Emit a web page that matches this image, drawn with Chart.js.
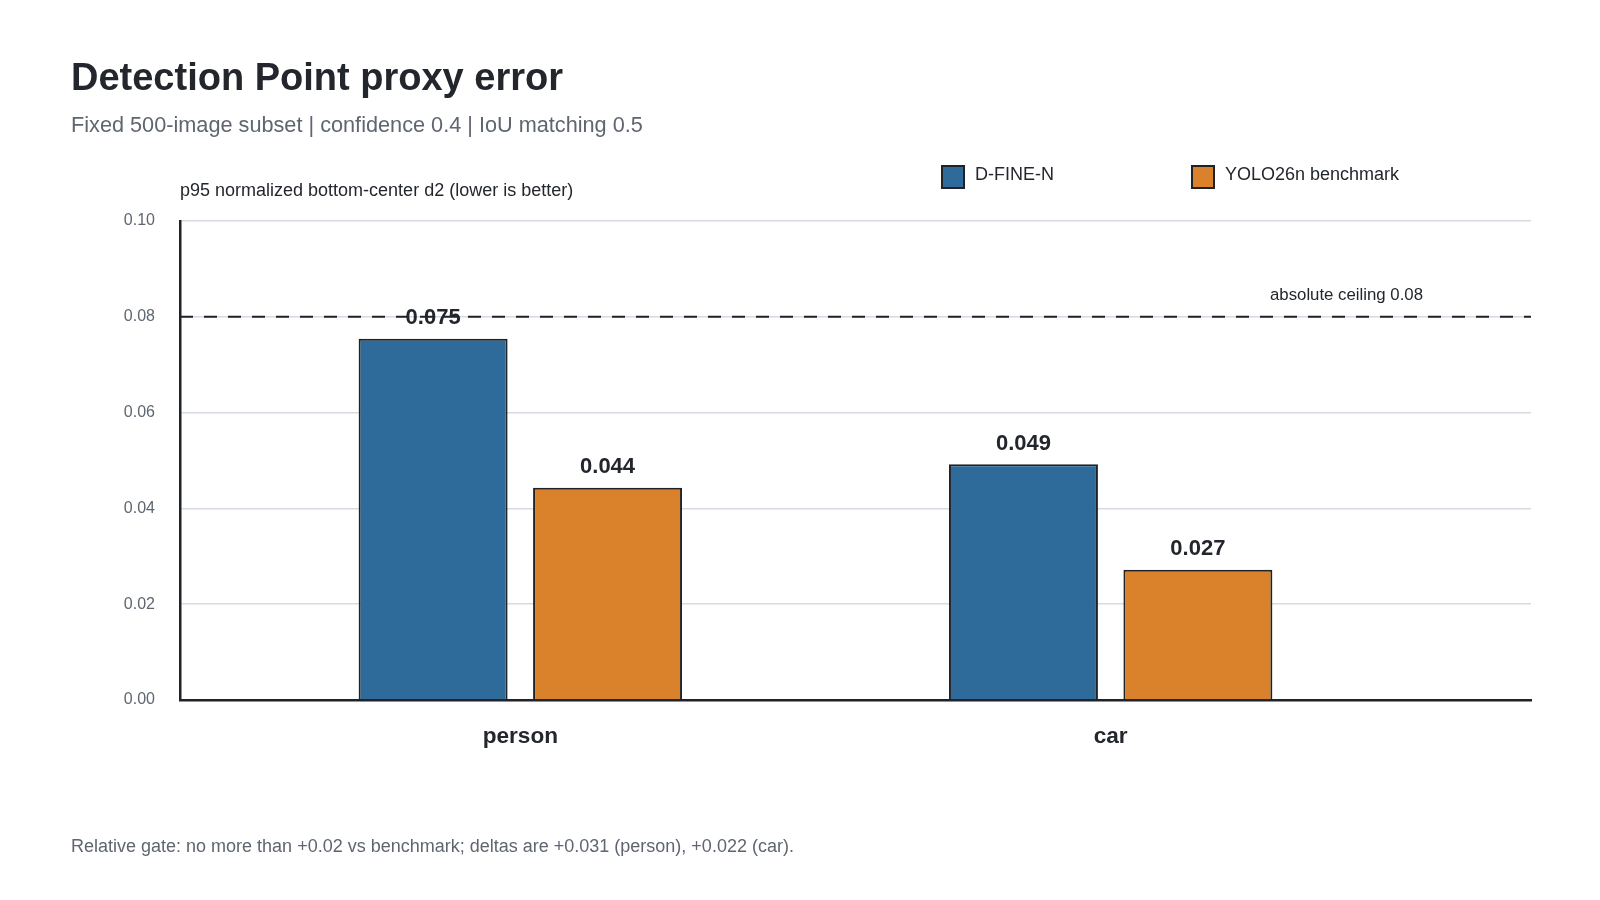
<!DOCTYPE html>
<html>
<head>
<meta charset="utf-8">
<script src="https://cdn.jsdelivr.net/npm/chart.js@4.4.1/dist/chart.umd.min.js"></script>
<style>
  html, body { margin: 0; padding: 0; background: #fff; }
  body { width: 1600px; height: 900px; position: relative; overflow: hidden;
         font-family: "Liberation Sans", Arial, sans-serif; }
  .txt { position: absolute; white-space: nowrap; }
  #title { left: 71px; top: 55px; font-size: 38px; font-weight: bold; color: #23272d; line-height: 44px; }
  #subtitle { left: 71px; top: 112px; font-size: 21.7px; color: #5f6670; line-height: 26px; }
  #footer { left: 71px; top: 835px; font-size: 18px; color: #5f6670; line-height: 22px; }
  .swatch { position: absolute; width: 19.5px; height: 19.5px; border: 2px solid #1f2328; }
  .legtext { position: absolute; font-size: 18px; color: #23272d; line-height: 20px; }
  #wrap { position: absolute; left: 0; top: 0; width: 1600px; height: 900px; }
</style>
</head>
<body>
<div id="wrap"><canvas id="chart"></canvas></div>
<div class="txt" id="title">Detection Point proxy error</div>
<div class="txt" id="subtitle">Fixed 500-image subset | confidence 0.4 | IoU matching 0.5</div>
<div class="txt" id="footer">Relative gate: no more than +0.02 vs benchmark; deltas are +0.031 (person), +0.022 (car).</div>
<div id="legend"></div>
<script>
// chart data
const categories = ["person", "car"];
const seriesNames = ["D-FINE-N", "YOLO26n benchmark"];
const dfineValues = [0.0754, 0.0492];
const yoloValues = [0.0443, 0.0272];
const yTicks = [0, 0.02, 0.04, 0.06, 0.08, 0.10];
const ceiling = 0.08;

const colors = ["#2e6b9a", "#d9822b"];
const edge = "#1f2328";

// legend (html)
const legendPos = [941, 1191];
const legend = document.getElementById("legend");
seriesNames.forEach((name, i) => {
    const sw = document.createElement("div");
    sw.className = "swatch";
    sw.style.left = legendPos[i] + "px";
    sw.style.top = "165px";
    sw.style.background = colors[i];
    legend.appendChild(sw);
    const t = document.createElement("div");
    t.className = "legtext";
    t.style.left = (legendPos[i] + 34) + "px";
    t.style.top = "164px";
    t.textContent = name;
    legend.appendChild(t);
});

// value labels, ceiling line and axis title
const extras = {
    id: "extras",
    afterDatasetsDraw(chart) {
        const ctx = chart.ctx;
        const area = chart.chartArea;
        const yScale = chart.scales.y;
        const yLine = yScale.getPixelForValue(ceiling);

        ctx.save();
        ctx.strokeStyle = "#1f2328";
        ctx.lineWidth = 2;
        ctx.setLineDash([13, 11]);
        ctx.beginPath();
        ctx.moveTo(area.left, yLine);
        ctx.lineTo(area.right, yLine);
        ctx.stroke();
        ctx.setLineDash([]);

        ctx.fillStyle = "#23272d";
        ctx.font = "16.8px 'Liberation Sans', Arial, sans-serif";
        ctx.textAlign = "right";
        ctx.textBaseline = "middle";
        ctx.fillText("absolute ceiling " + ceiling.toFixed(2), area.right - 108, yLine - 21);

        ctx.font = "bold 22px 'Liberation Sans', Arial, sans-serif";
        ctx.textAlign = "center";
        ctx.textBaseline = "middle";
        chart.data.datasets.forEach((ds, di) => {
            const meta = chart.getDatasetMeta(di);
            meta.data.forEach((bar, i) => {
                ctx.fillText(ds.data[i].y.toFixed(3), bar.x, bar.y - 20.5);
            });
        });

        ctx.font = "18px 'Liberation Sans', Arial, sans-serif";
        ctx.textAlign = "left";
        ctx.fillText("p95 normalized bottom-center d2 (lower is better)", area.left, area.top - 30);
        ctx.restore();
    }
};

const ctx = document.getElementById("chart").getContext("2d");
new Chart(ctx, {
    type: "bar",
    data: {
        datasets: [
            {
                label: seriesNames[0],
                data: categories.map((c, i) => ({ x: i, y: dfineValues[i] })),
                backgroundColor: colors[0],
                borderColor: edge,
                borderWidth: 2
            },
            {
                label: seriesNames[1],
                data: categories.map((c, i) => ({ x: i, y: yoloValues[i] })),
                backgroundColor: colors[1],
                borderColor: edge,
                borderWidth: 2
            }
        ]
    },
    options: {
        responsive: true,
        maintainAspectRatio: false,
        animation: false,
        categoryPercentage: 0.591,
        barPercentage: 0.854,
        layout: { padding: { top: 221, right: 69, left: 0, bottom: 0 } },
        plugins: {
            legend: { display: false },
            tooltip: { enabled: false }
        },
        scales: {
            x: {
                type: "linear",
                offset: false,
                min: -0.5765,
                max: 1.712,
                afterBuildTicks: scale => {
                    scale.ticks = categories.map((c, i) => ({ value: i }));
                },
                afterFit: scale => { scale.height = 200; },
                grid: { display: false, drawTicks: false, offset: false },
                border: { color: "#1f2328", width: 2.5 },
                ticks: {
                    padding: 23,
                    color: "#23272d",
                    font: { family: "'Liberation Sans', Arial, sans-serif", size: 22.6, weight: "bold" },
                    callback: v => categories[v]
                }
            },
            y: {
                min: 0,
                max: 0.1,
                afterBuildTicks: scale => {
                    scale.ticks = yTicks.map(v => ({ value: v }));
                },
                afterFit: scale => { scale.width = 180; },
                grid: { color: "#d6dbe2", lineWidth: 1.5, drawTicks: false },
                border: { color: "#1f2328", width: 2.5 },
                ticks: {
                    padding: 25,
                    color: "#5f6670",
                    font: { family: "'Liberation Sans', Arial, sans-serif", size: 16 },
                    callback: v => v.toFixed(2)
                }
            }
        }
    },
    plugins: [extras]
});
</script>
</body>
</html>
